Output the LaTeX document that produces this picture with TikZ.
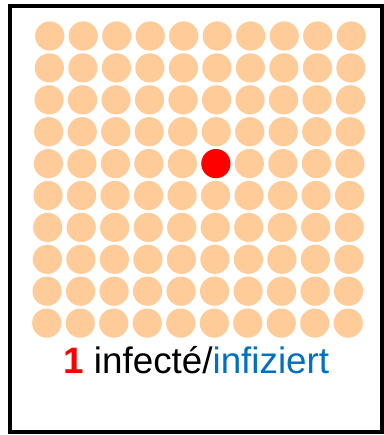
\documentclass[tikz,border=0pt]{standalone}
\usepackage{fontspec}
\setmainfont{Liberation Sans}
\definecolor{peach}{HTML}{FFCC99}
\definecolor{infblue}{HTML}{0070C0}
\definecolor{infred}{HTML}{FF0000}
\begin{document}
\begin{tikzpicture}[x=0.75pt, y=-0.75pt]
    % --- 定义参数 ---
    \def\R{14.6}      % 圆点半径
    \def\dx{33.5}     % 列间距
    \def\dy{31.9}     % 行间距

    \useasboundingbox (0,0) rectangle (383,435);

    % --- 外框 ---
    \draw[line width=3pt] (10,6.5) rectangle (381.5,432);

    % --- 10 x 10 圆点 ---
    \foreach \r in {0,...,9} {
        \foreach \c in {0,...,9} {
            \fill[peach] (49.7 - 0.33*\r + \dx*\c, 36 + \dy*\r) circle (\R);
        }
    }
    % 被感染的一个 (第 5 行, 第 6 列)
    \fill[infred] (49.7 - 0.33*4 + \dx*5, 36 + \dy*4) circle (\R);

    % --- 标签 ---
    \node[anchor=base west, inner sep=0, font=\fontsize{27.6}{33}\selectfont] (label) at (63,373)
        {\textcolor{infred}{\textbf{1}} infecté/\textcolor{infblue}{infiziert}};

\end{tikzpicture}
\end{document}
